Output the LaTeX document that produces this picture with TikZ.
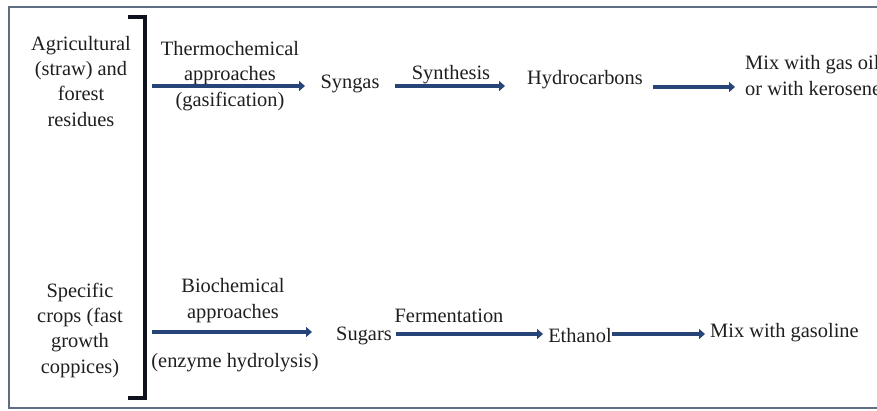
\documentclass[tikz,border=0pt]{standalone}
\usepackage{fontspec}
\setmainfont{Liberation Serif}
\usetikzlibrary{arrows.meta}
\definecolor{arrowblue}{RGB}{38,68,120}
\definecolor{framegray}{RGB}{95,110,130}
\definecolor{bracketblack}{RGB}{15,18,30}
\begin{document}
\begin{tikzpicture}[x=1pt,y=-1pt,
  lbl/.style={font=\fontsize{20.4}{25.3}\selectfont, inner sep=0pt, align=center, anchor=base, text=black!88},
  arr/.style={draw=arrowblue, line width=4.5pt, -{Triangle[length=6pt,width=10pt]}},
  bracketline/.style={draw=bracketblack, line width=3.5pt}
]
\useasboundingbox (0,0) rectangle (877,410);
\clip (0,0) rectangle (877,410);
\fill[white] (0,0) rectangle (877,410);
\draw[framegray, line width=1.5pt] (9,7) rectangle (900,408);

% bracket
\coordinate (brtop) at (128,17);
\coordinate (brbot) at (128,398);
\draw[bracketline] (brtop) -- (145,17) -- (145,398) -- (brbot);

% feedstocks (anchor base = baseline of last line)
\node[lbl] (agri) at (81,126) {Agricultural\\(straw) and\\forest\\residues};
\node[lbl] (crops) at (80,373) {Specific\\crops (fast\\growth\\coppices)};

% top row
\node[lbl] (thermo) at (230,106) {Thermochemical\\approaches\\(gasification)};
\node[lbl] (syngas) at (350,88) {Syngas};
\node[lbl] (synth) at (451,79) {Synthesis};
\node[lbl] (hydro) at (585,84) {Hydrocarbons};
\node[lbl, align=left, anchor=base west] (mixoil) at (745,95) {Mix with gas oil\\or with kerosene};

% bottom row
\node[lbl] (bio) at (233,318) {Biochemical\\approaches};
\node[lbl] (enz) at (235,367) {(enzyme hydrolysis)};
\node[lbl] (sugars) at (364,340) {Sugars};
\node[lbl] (ferm) at (449,322) {Fermentation};
\node[lbl] (ethanol) at (580,342) {Ethanol};
\node[lbl, anchor=base west] (mixgas) at (710,337) {Mix with gasoline};

% arrow end points
\coordinate (a1s) at (152,86);  \coordinate (a1e) at (305,86);
\coordinate (a2s) at (395,86);  \coordinate (a2e) at (505,86);
\coordinate (a3s) at (653,87);  \coordinate (a3e) at (735,87);
\coordinate (b1s) at (152,332); \coordinate (b1e) at (312,332);
\coordinate (b2s) at (396,334); \coordinate (b2e) at (543,334);
\coordinate (b3s) at (612,334); \coordinate (b3e) at (705,334);

\draw[arr] (a1s) -- (a1e);
\draw[arr] (a2s) -- (a2e);
\draw[arr] (a3s) -- (a3e);
\draw[arr] (b1s) -- (b1e);
\draw[arr] (b2s) -- (b2e);
\draw[arr] (b3s) -- (b3e);
\end{tikzpicture}
\end{document}
